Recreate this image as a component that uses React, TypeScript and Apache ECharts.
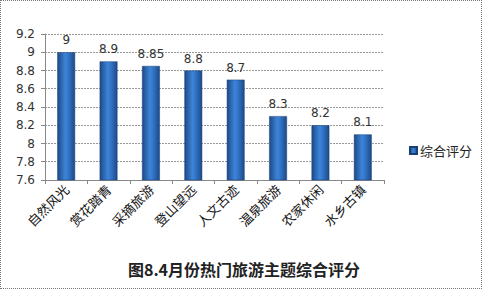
import React, { useEffect, useRef } from "react";
import * as echarts from "echarts";

const categories = ["自然风光", "赏花踏青", "采摘旅游", "登山望远", "人文古迹", "温泉旅游", "农家休闲", "水乡古镇"];
const scores = [9, 8.9, 8.85, 8.8, 8.7, 8.3, 8.2, 8.1];
const seriesName = "综合评分";
const titleText = "图8.4月份热门旅游主题综合评分";

export default function App() {
  const ref = useRef<HTMLDivElement>(null);
  useEffect(() => {
    const chart = echarts.init(ref.current!, null, { renderer: "svg" });
    const barColor = new echarts.graphic.LinearGradient(0, 0, 1, 0, [
      { offset: 0, color: "#1c4a88" },
      { offset: 0.45, color: "#3d84d8" },
      { offset: 0.6, color: "#3478cc" },
      { offset: 1, color: "#1c4a88" },
    ]);
    chart.setOption({
      animation: false,
      backgroundColor: "#ffffff",
      title: {
        text: titleText,
        left: 239,
        textAlign: "center",
        top: 256,
        textStyle: { fontSize: 16, fontWeight: "bold", color: "#222", fontFamily: "Noto Sans CJK SC" },
      },
      legend: {
        data: [seriesName],
        left: 404,
        top: 139,
        itemWidth: 7,
        itemHeight: 7,
        itemGap: 4,
        icon: "rect",
        textStyle: { fontSize: 13, color: "#222", fontFamily: "Noto Sans CJK SC", padding: [0, 0, 0, -2] },
      },
      grid: { left: 45, right: 98, top: 34, bottom: 109, containLabel: false },
      xAxis: {
        type: "category",
        data: categories,
        axisLine: { show: true, lineStyle: { color: "#888" } },
        axisTick: { show: true, alignWithLabel: false, length: 4, lineStyle: { color: "#888" } },
        axisLabel: {
          rotate: 45,
          interval: 0,
          margin: 7,
          fontSize: 13,
          color: "#111",
          fontFamily: "Noto Sans CJK SC",
        },
      },
      yAxis: {
        type: "value",
        min: 7.6,
        max: 9.2,
        interval: 0.2,
        axisLine: { show: true, lineStyle: { color: "#888" } },
        axisTick: { show: true, length: 4, lineStyle: { color: "#888" } },
        axisLabel: {
          fontSize: 12,
          color: "#333",
          margin: 10,
          fontFamily: "DejaVu Sans",
          formatter: (v: number) => String(Math.round(v * 100) / 100),
        },
        splitLine: { show: true, lineStyle: { color: "#999", type: [2, 1] } },
      },
      series: [
        {
          name: seriesName,
          type: "bar",
          data: scores,
          barWidth: "42%",
          itemStyle: { color: barColor, borderColor: "#1a3f75", borderWidth: 0.5 },
          label: {
            show: true,
            position: "top",
            distance: 6,
            fontSize: 12,
            color: "#333",
            fontFamily: "DejaVu Sans",
          },
        },
      ],
    });
    return () => chart.dispose();
  }, []);
  return (
    <div style={{ position: "fixed", left: 0, top: 0, width: 482, height: 289 }}>
      <div ref={ref} style={{ position: "absolute", left: 0, top: 0, width: 482, height: 289 }} />
      <div
        style={{
          position: "absolute",
          left: 0,
          top: 0,
          width: 482,
          height: 289,
          boxSizing: "border-box",
          border: "1px dotted #777",
          pointerEvents: "none",
        }}
      />
    </div>
  );
}
